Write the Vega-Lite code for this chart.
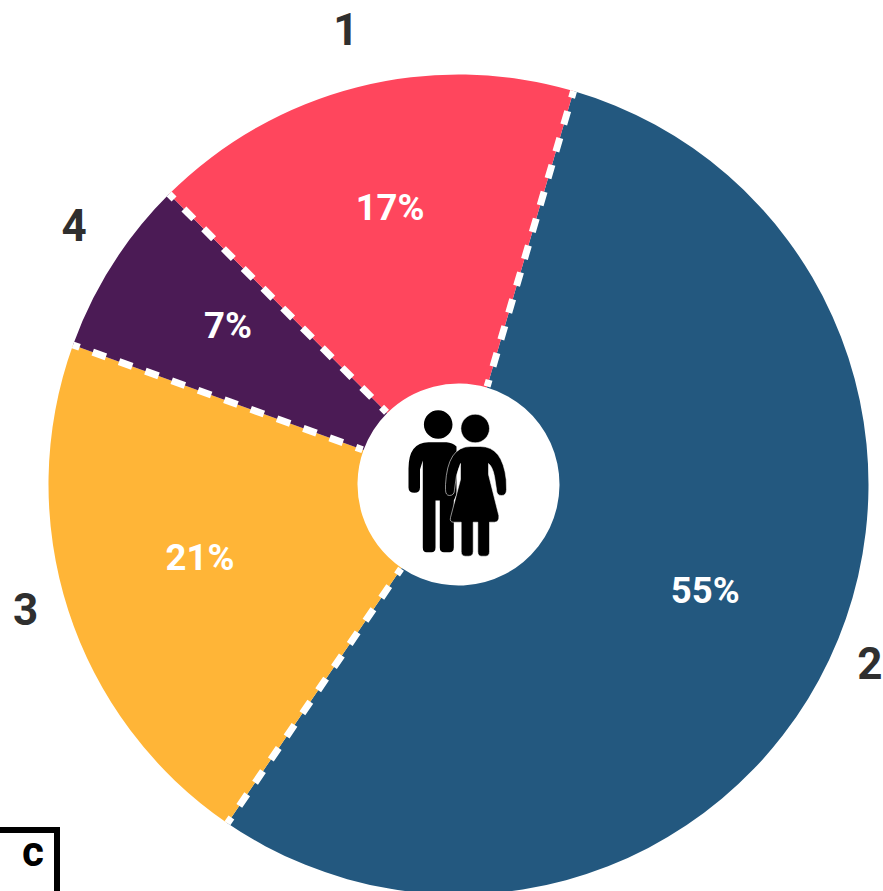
{
"$schema":"https://vega.github.io/schema/vega-lite/v6.json",
"width":883,"height":891,"padding":0,
"autosize":{"type":"none"},
"background":"white",
"config":{"view":{"stroke":null}},
"data":{"values":[
{"segment":"2","share":"55%","start":0,"end":55,"labelAt":27},
{"segment":"3","share":"21%","start":55,"end":76,"labelAt":66},
{"segment":"4","share":"7%","start":76,"end":83,"labelAt":80},
{"segment":"1","share":"17%","start":83,"end":100,"labelAt":91.6}
]},
"encoding":{"x":{"value":458.5},"y":{"value":484.5}},
"layer":[
{"mark":{"type":"arc","radius":410,"radius2":101},
 "encoding":{
  "theta":{"field":"start","type":"quantitative","stack":null,"scale":{"domain":[0,100],"range":[0.2845,6.5677]}},
  "theta2":{"field":"end"},
  "color":{"field":"segment","type":"nominal","legend":null,"scale":{"domain":["1","2","3","4"],"range":["#FF465D","#23587F","#FFB537","#4B1B55"]}}}},
{"mark":{"type":"arc","radius":410,"radius2":101,"stroke":"white","strokeWidth":7,"strokeDash":[7,14,14,14,14,14,14,14,14,14,14,14,14,14,14,14,14,14,14,14,14,14,7,500],"fillOpacity":0},
 "encoding":{
  "theta":{"field":"start","type":"quantitative","stack":null,"scale":{"domain":[0,100],"range":[0.2845,6.5677]}},
  "theta2":{"field":"start"}}},
{"transform":[{"filter":"datum.segment==='3'"}],
 "mark":{"type":"text","font":"Roboto","fontWeight":"bold","fontSize":44,"fill":"#2F2F2F","align":"center","baseline":"middle","dy":3},
 "encoding":{"theta":{"field":"labelAt","type":"quantitative","stack":null},"radius":{"value":450.5},"text":{"field":"segment"}}},
{"transform":[{"filter":"datum.segment==='2'"}],
 "mark":{"type":"text","font":"Roboto","fontWeight":"bold","fontSize":44,"fill":"#2F2F2F","align":"center","baseline":"middle","dy":3},
 "encoding":{"theta":{"field":"labelAt","type":"quantitative","stack":null},"radius":{"value":448.5},"text":{"field":"segment"}}},
{"transform":[{"filter":"datum.segment==='1'"}],
 "mark":{"type":"text","font":"Roboto","fontWeight":"bold","fontSize":44,"fill":"#2F2F2F","align":"center","baseline":"middle","dy":2},
 "encoding":{"theta":{"field":"labelAt","type":"quantitative","stack":null},"radius":{"value":468},"text":{"field":"segment"}}},
{"transform":[{"filter":"datum.segment==='4'"}],
 "mark":{"type":"text","font":"Roboto","fontWeight":"bold","fontSize":44,"fill":"#2F2F2F","align":"center","baseline":"middle","dy":4,"dx":-2},
 "encoding":{"theta":{"field":"labelAt","type":"quantitative","stack":null},"radius":{"value":463},"text":{"field":"segment"}}},
{"transform":[{"filter":"datum.segment==='2'||datum.segment==='3'"}],
 "mark":{"type":"text","font":"Roboto","fontWeight":"bold","fontSize":36.5,"fill":"white","align":"center","baseline":"middle"},
 "encoding":{"theta":{"field":"labelAt","type":"quantitative","stack":null},"radius":{"value":269},"text":{"field":"share"}}},
{"transform":[{"filter":"datum.segment==='1'"}],
 "mark":{"type":"text","font":"Roboto","fontWeight":"bold","fontSize":36.5,"fill":"white","align":"center","baseline":"middle"},
 "encoding":{"theta":{"field":"labelAt","type":"quantitative","stack":null},"radius":{"value":284},"text":{"field":"share"}}},
{"transform":[{"filter":"datum.segment==='4'"}],
 "mark":{"type":"text","font":"Roboto","fontWeight":"bold","fontSize":36.5,"fill":"white","align":"center","baseline":"middle"},
 "encoding":{"theta":{"field":"labelAt","type":"quantitative","stack":null},"radius":{"value":279},"text":{"field":"share"}}},
{"data":{"values":[{"figure":"man"}]},
 "mark":{"type":"point","filled":true,"fill":"black","fillOpacity":1,"strokeWidth":0,"size":4,
  "shape":"M -34.6,-60 A 14.3,14.3 0 1 0 -6,-60 A 14.3,14.3 0 1 0 -34.6,-60 Z M -50,-16 Q -50,-42 -30,-42.3 L -12,-42.3 Q -6,-42 -2,-38 L -2,10 L -4.7,16 L -4.7,63 Q -4.7,67.7 -9,67.7 L -14.5,67.7 Q -18.7,67.7 -18.7,63 L -18.7,16 L -23,16 L -23,63 Q -23,67.7 -27,67.7 L -32,67.7 Q -35.7,67.7 -35.7,63 L -35.7,-24 L -38.5,-15 L -38.5,3 Q -38.5,8.3 -44,8.3 Q -50,8.3 -50,3 Z"}},
{"data":{"values":[{"figure":"woman"}]},
 "mark":{"type":"point","filled":true,"fill":"black","fillOpacity":1,"stroke":"white","strokeOpacity":0.8,"strokeWidth":0.7,"size":4,
  "shape":"M 2.4,-56 A 14.3,14.3 0 1 0 31,-56 A 14.3,14.3 0 1 0 2.4,-56 Z M -13,0 Q -11,-38 12,-38 L 22,-38 Q 44,-38 47.7,-5 L 48,5 Q 48,11 43,11 Q 38,11 38,5 L 36,-8 Q 34,-18 30,-21 L 30,-10 L 40.3,31 Q 41,37.7 36,37.7 L 31,37.7 L 31,67 Q 31,71.7 27,71.7 L 23,71.7 Q 19.3,71.7 19.3,67 L 19.3,37.7 L 14.7,37.7 L 14.7,67 Q 14.7,71.7 10,71.7 L 7,71.7 Q 2.7,71.7 2.7,67 L 2.7,37.7 L -5,37.7 Q -9,37.7 -8,33 L 2,-5 L 2,-21 Q -3,-10 -4,5 Q -4,11 -9,11 Q -13,11 -13,5 Z"}},
{"data":{"values":[{"panel":"c"}]},
 "mark":{"type":"rule","stroke":"black","strokeWidth":6},
 "encoding":{"x":{"value":0},"x2":{"value":60},"y":{"value":830},"y2":{"value":830}}},
{"data":{"values":[{"panel":"c"}]},
 "mark":{"type":"rule","stroke":"black","strokeWidth":6},
 "encoding":{"x":{"value":57},"x2":{"value":57},"y":{"value":827},"y2":{"value":891}}},
{"data":{"values":[{"panel":"c"}]},
 "mark":{"type":"text","font":"Roboto","fontWeight":"bold","fontSize":42,"fill":"black","align":"center","baseline":"middle"},
 "encoding":{"x":{"value":33},"y":{"value":853},"text":{"field":"panel"}}}
]
}
